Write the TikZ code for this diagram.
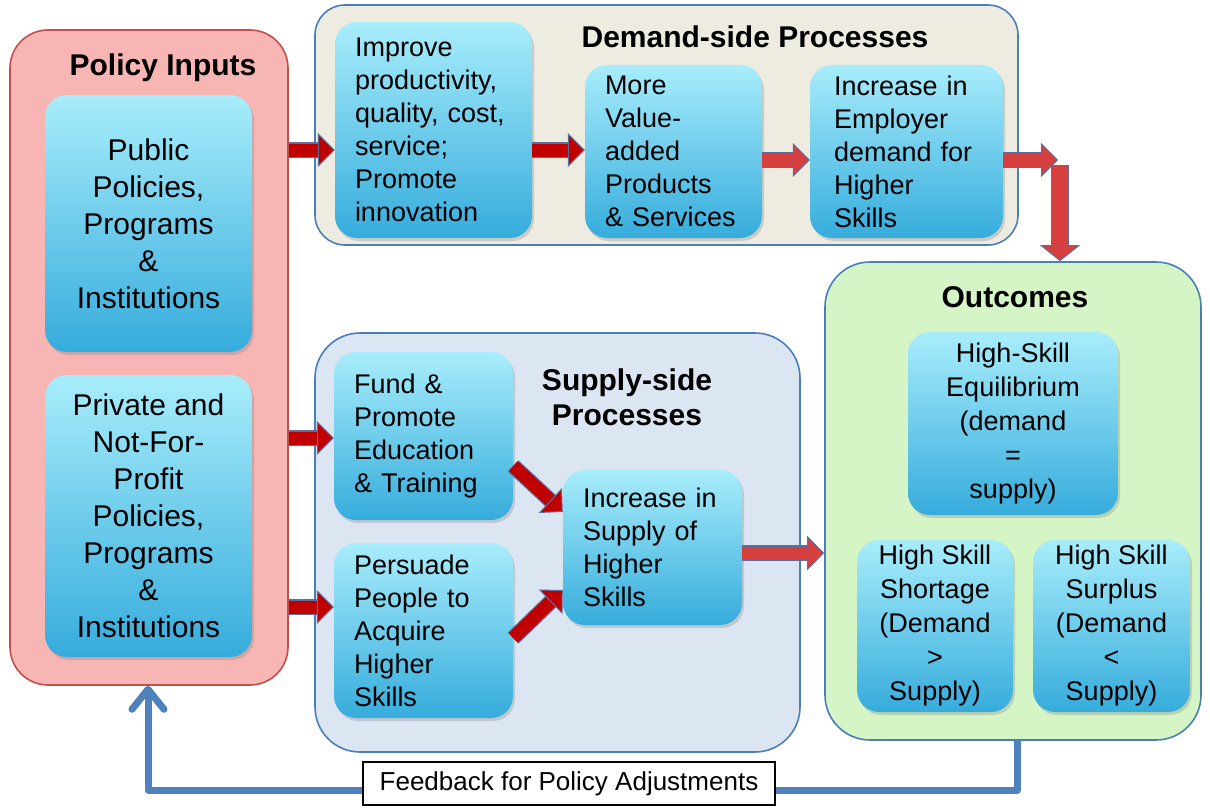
\documentclass[tikz,border=0pt]{standalone}
\usepackage{fontspec}
\setmainfont{Liberation Sans}
\usetikzlibrary{arrows.meta,shadows}
\definecolor{pinkfill}{HTML}{F7B5B4}
\definecolor{pinkline}{HTML}{C0504D}
\definecolor{beige}{HTML}{EEECE1}
\definecolor{supfill}{HTML}{DCE6F2}
\definecolor{grnfill}{HTML}{D6F5C6}
\definecolor{frame}{HTML}{4A7EBB}
\definecolor{cyantop}{HTML}{A8EDFB}
\definecolor{cyanbot}{HTML}{36ACDC}
\definecolor{darkred}{HTML}{C00000}
\definecolor{litred}{HTML}{D63F3D}
\definecolor{arrline}{HTML}{5B6E9E}
\definecolor{fbblue}{HTML}{4F81BD}
\newcommand\myBody{\fontsize{27}{33}\selectfont}
\newcommand\myOut{\fontsize{27}{34}\selectfont}
\newcommand\myPol{\fontsize{30}{37}\selectfont}
\newcommand\myTitle{\fontsize{30}{35}\selectfont\bfseries}
\newcommand\myFb{\fontsize{26}{30}\selectfont}
\begin{document}
\begin{tikzpicture}[x=1pt,y=-1pt,
  container/.style={draw, line width=1.6pt, rounded corners=#1, inner sep=0pt},
  ibox/.style={rounded corners=22pt, top color=cyantop, bottom color=cyanbot,
    inner sep=0pt, drop shadow={shadow xshift=2pt,shadow yshift=-3pt,opacity=0.3}},
  lbox/.style={ibox, align=left, inner xsep=20pt, font=\myBody},
  cbox/.style={ibox, align=center, font=\myOut},
  pbox/.style={ibox, align=center, font=\myPol},
  ttl/.style={font=\myTitle, align=center, inner sep=0pt},
  rarrow/.style={preaction={draw=arrline, line width=15.5pt, -, shorten >=15pt},
    draw=#1, line width=13pt,
    -{Triangle[length=17pt,width=34pt,line width=1pt,color=arrline,fill=#1]}},
  darrow/.style={preaction={draw=arrline, line width=18.5pt, -, shorten >=14pt},
    draw=#1, line width=16pt,
    -{Triangle[length=16pt,width=40pt,line width=1pt,color=arrline,fill=#1]}},
  fb/.style={draw=fbblue, line width=7pt, line join=round,
    -{Straight Barb[length=20pt,width=32pt,round]}},
  fbbox/.style={draw=black, line width=1.5pt, fill=white, font=\myFb, inner sep=0pt}
]
\useasboundingbox (0,0) rectangle (1210,808);

% containers
\node[container=38pt, draw=pinkline, fill=pinkfill, minimum width=278pt, minimum height=655pt] (pol) at (149,357.5) {};
\node[container=30pt, draw=frame, fill=beige, minimum width=703pt, minimum height=240pt] (dem) at (666.5,125) {};
\node[container=45pt, draw=frame, fill=supfill, minimum width=485pt, minimum height=419pt] (sup) at (557.5,542.5) {};
\node[container=45pt, draw=frame, fill=grnfill, minimum width=376pt, minimum height=478pt] (out) at (1013,501) {};

% titles
\node[ttl] (polT) at (163,68) {Policy Inputs};
\node[ttl] (demT) at (755,37) {Demand-side Processes};
\node[ttl] (supT) at (627,397) {Supply-side\\Processes};
\node[ttl] (outT) at (1015,297) {Outcomes};

% policy boxes
\node[pbox, minimum width=207pt, minimum height=257pt] (pub) at (148.5,223.5) {Public\\Policies,\\Programs\\\&\\Institutions};
\node[pbox, minimum width=207pt, minimum height=282pt] (priv) at (148.5,516) {Private and\\Not-For-\\Profit\\Policies,\\Programs\\\&\\Institutions};

% demand-side
\node[lbox, text width=157pt, minimum height=216pt] (A) at (433.5,130) {Improve\\productivity,\\quality, cost,\\service;\\Promote\\innovation};
\node[lbox, text width=137pt, minimum height=173pt] (B) at (673.5,151.5) {More\\Value-\\added\\Products\\\& Services};
\node[lbox, inner xsep=24pt, text width=145pt, minimum height=173pt] (C) at (906.5,151.5) {Increase in\\Employer\\demand for\\Higher\\Skills};

% supply-side
\node[lbox, text width=139pt, minimum height=168pt] (D) at (423.5,436) {Fund \&\\Promote\\Education\\\& Training};
\node[lbox, text width=139pt, minimum height=175pt] (E) at (423.5,630.5) {Persuade\\People to\\Acquire\\Higher\\Skills};
\node[lbox, text width=139pt, minimum height=155pt] (F) at (652.5,547.5) {Increase in\\Supply of\\Higher\\Skills};

% outcomes
\node[cbox, minimum width=210pt, minimum height=183pt] (eq) at (1013,423.5) {High-Skill\\Equilibrium\\(demand\\=\\supply)};
\node[cbox, minimum width=156pt, minimum height=172pt] (sho) at (935,626) {High Skill\\Shortage\\(Demand\\>\\Supply)};
\node[cbox, minimum width=157pt, minimum height=172pt] (sur) at (1111.5,626) {High Skill\\Surplus\\(Demand\\<\\Supply)};

% red arrows
\coordinate (elbow) at (1058,160);
\coordinate (down) at (1060,165);
\draw[rarrow=darkred] (pol.east |- 0,150) -- (A.west |- 0,150);
\draw[rarrow=darkred] (A.east |- 0,150) -- (B.west |- 0,150);
\draw[rarrow=litred] (B.east |- 0,160) -- (C.west |- 0,160);
\draw[rarrow=litred] (C.east |- elbow) -- (elbow);
\draw[darrow=litred] (down) -- (down |- out.north);
\draw[rarrow=darkred] (pol.east |- 0,438) -- (D.west |- 0,438);
\draw[rarrow=darkred] (pol.east |- 0,607) -- (E.west |- 0,607);
\draw[rarrow=darkred] (D.east |- 0,466) -- (F.west |- 0,512);
\draw[rarrow=darkred] (E.east |- 0,638) -- (F.west |- 0,590);
\draw[rarrow=litred] (F.east |- 0,553) -- (out.west |- 0,553);

% feedback
\coordinate (fbA) at (1017,790);
\coordinate (fbB) at (148,790);
\draw[fb] (out.south -| fbA) -- (fbA) -- (fbB) -- (pol.south -| fbB);
\node[fbbox, minimum width=412pt, minimum height=43pt] (fbl) at (569,783.5) {Feedback for Policy Adjustments};
\end{tikzpicture}
\end{document}
